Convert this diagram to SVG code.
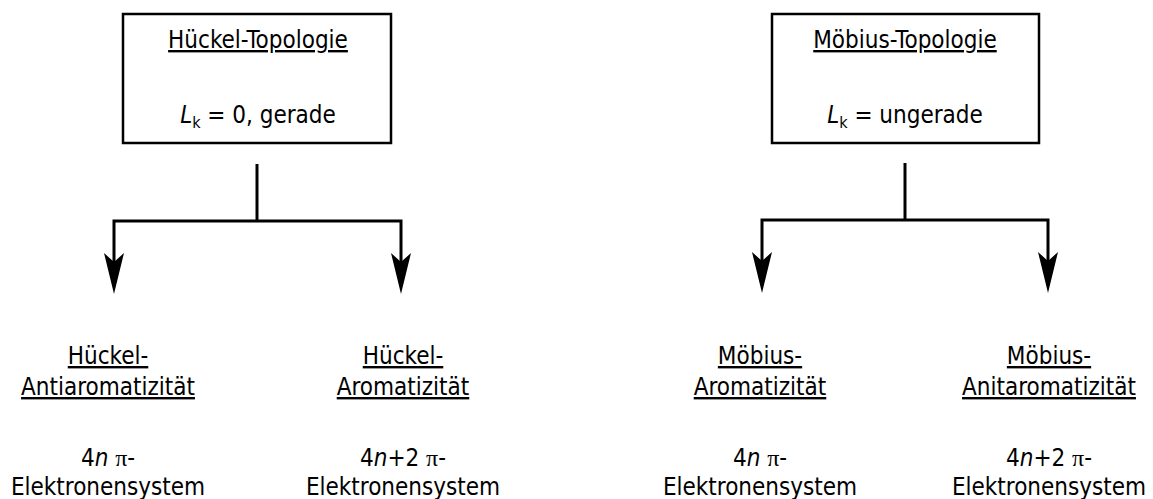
<svg xmlns="http://www.w3.org/2000/svg" width="1153" height="499" viewBox="0 0 1153 499">
<defs>
<style>
text{font-family:"DejaVu Sans Condensed","DejaVu Sans","Liberation Sans",sans-serif;font-stretch:condensed;font-size:24px;fill:#000;text-anchor:middle}
.u{text-decoration:underline}
.box{fill:#fff;stroke:#000;stroke-width:2.5}
.conn path{fill:none;stroke:#000;stroke-width:3;stroke-linejoin:miter;marker-end:url(#ah)}
.conn path.trunk{marker-end:none}
.pi{font-family:"Liberation Serif","DejaVu Serif",serif;font-stretch:normal}
.it{font-style:italic}
</style>
<marker id="ah" viewBox="0 0 41 20" refX="9" refY="10" markerWidth="41" markerHeight="20" markerUnits="userSpaceOnUse" orient="auto">
<path d="M0,0 L41,10 L0,20 L9,10 Z" fill="#000"/>
</marker>
</defs>
<rect width="1153" height="499" fill="#fff"/>
<g class="conn" id="connectors">
<path class="trunk" d="M257,164 V221"/>
<path d="M257,221 H114 V262"/>
<path d="M257,221 H401 V262"/>
<path class="trunk" d="M905,163 V220"/>
<path d="M905,220 H762 V261"/>
<path d="M905,220 H1048 V261"/>
</g>
<g id="hueckel-topologie">
<rect class="box" x="123" y="14" width="268" height="129"/>
<text class="u" x="258" y="48">Hückel-Topologie</text>
<text x="258" y="123"><tspan class="it">L</tspan><tspan font-size="16" dy="5">k</tspan><tspan dy="-5"> = 0, gerade</tspan></text>
</g>
<g id="moebius-topologie">
<rect class="box" x="772" y="14" width="267" height="129"/>
<text class="u" x="905" y="48">Möbius-Topologie</text>
<text x="905" y="123"><tspan class="it">L</tspan><tspan font-size="16" dy="5">k</tspan><tspan dy="-5"> = ungerade</tspan></text>
</g>
<g id="hueckel-antiaromatizitaet">
<text class="u" x="108" y="364">Hückel-</text>
<text class="u" x="108" y="395">Antiaromatizität</text>
<text x="108" y="466">4<tspan class="it">n</tspan> <tspan class="pi">π</tspan>-</text>
<text x="108" y="495">Elektronensystem</text>
</g>
<g id="hueckel-aromatizitaet">
<text class="u" x="403" y="364">Hückel-</text>
<text class="u" x="403" y="395">Aromatizität</text>
<text x="403" y="466">4<tspan class="it">n</tspan>+2 <tspan class="pi">π</tspan>-</text>
<text x="403" y="495">Elektronensystem</text>
</g>
<g id="moebius-aromatizitaet">
<text class="u" x="760" y="364">Möbius-</text>
<text class="u" x="760" y="395">Aromatizität</text>
<text x="760" y="466">4<tspan class="it">n</tspan> <tspan class="pi">π</tspan>-</text>
<text x="760" y="495">Elektronensystem</text>
</g>
<g id="moebius-anitaromatizitaet">
<text class="u" x="1049" y="364">Möbius-</text>
<text class="u" x="1049" y="395">Anitaromatizität</text>
<text x="1049" y="466">4<tspan class="it">n</tspan>+2 <tspan class="pi">π</tspan>-</text>
<text x="1049" y="495">Elektronensystem</text>
</g>
</svg>
